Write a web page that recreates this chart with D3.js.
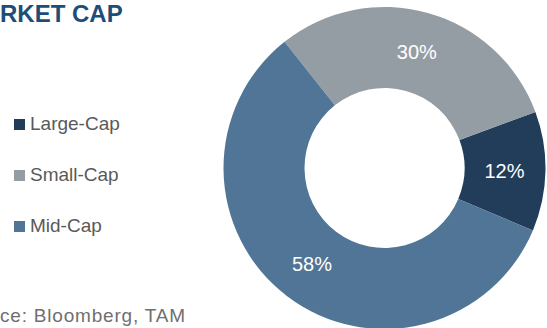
<!DOCTYPE html>
<html>
<head>
<meta charset="utf-8">
<script src="https://cdn.jsdelivr.net/npm/d3@7"></script>
<style>
  body { margin: 0; background: #fff; }
  svg { display: block; }
</style>
</head>
<body>
<svg id="chart" width="547" height="328"></svg>
<script>
// data, legend order
const categories = ['Large-Cap', 'Small-Cap', 'Mid-Cap'];
const shares = [12, 30, 58];
const colors = ['#213d5a', '#959da4', '#517596'];

const svg = d3.select('#chart');
const font = 'Liberation Sans, Arial, sans-serif';

// title and source show only their visible part, as in the original crop
svg.append('text')
  .attr('x', 0)
  .attr('y', 22)
  .text('RKET CAP')
  .style('font-family', font)
  .style('font-size', '24px')
  .style('font-weight', 'bold')
  .style('fill', '#1d4e78');

svg.append('text')
  .attr('x', 0)
  .attr('y', 322)
  .text('ce: Bloomberg, TAM')
  .style('font-family', font)
  .style('font-size', '19px')
  .style('letter-spacing', '0.8px')
  .style('fill', '#6f6f6f');

// legend
const legend = svg.append('g')
  .selectAll('g')
  .data(categories)
  .join('g')
  .attr('transform', (d, i) => `translate(14, ${130 + i * 51})`);

legend.append('rect')
  .attr('x', 0)
  .attr('y', -11)
  .attr('width', 11)
  .attr('height', 11)
  .style('fill', (d, i) => colors[i]);

legend.append('text')
  .attr('x', 16)
  .attr('y', 0)
  .text(d => d)
  .style('font-family', font)
  .style('font-size', '19px')
  .style('fill', '#595959');

// donut, drawn counter-clockwise from ~113 deg
const cx = 384.5, cy = 168;
const outerR = 161, innerR = 80;
const start = 112.8 * Math.PI / 180;

const pie = d3.pie()
  .sort(null)
  .value(d => d)
  .startAngle(start)
  .endAngle(start - 2 * Math.PI);

const arc = d3.arc().innerRadius(innerR).outerRadius(outerR);
const labelArc = d3.arc().innerRadius(120).outerRadius(120);

const g = svg.append('g').attr('transform', `translate(${cx},${cy})`);
const arcs = pie(shares);

g.selectAll('path')
  .data(arcs)
  .join('path')
  .attr('d', arc)
  .style('fill', (d, i) => colors[i]);

g.selectAll('text')
  .data(arcs)
  .join('text')
  .attr('transform', d => `translate(${labelArc.centroid(d)})`)
  .attr('text-anchor', 'middle')
  .attr('dy', '0.35em')
  .text(d => `${d.data}%`)
  .style('font-family', font)
  .style('font-size', '20px')
  .style('fill', '#fff');
</script>
</body>
</html>
